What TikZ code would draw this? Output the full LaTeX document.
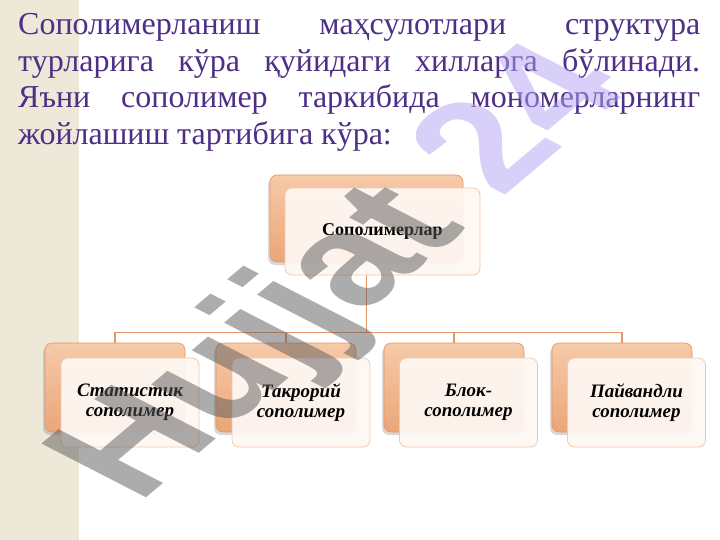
\documentclass[tikz,border=0pt]{standalone}
\usepackage{fontspec}
\setmainfont{Liberation Serif}
\newfontfamily\markfont{Liberation Sans}
\usepackage{tikz}
\usetikzlibrary{positioning,shadows,calc}

\definecolor{slidepurple}{RGB}{78,46,135}
\definecolor{stripbeige}{RGB}{238,232,216}
\definecolor{boxtop}{RGB}{246,202,168}
\definecolor{boxbottom}{RGB}{234,166,120}
\definecolor{boxline}{RGB}{228,150,105}
\definecolor{frontfill}{RGB}{254,248,244}
\definecolor{frontline}{RGB}{244,200,172}
\definecolor{markgray}{RGB}{90,90,90}
\definecolor{marklilac}{RGB}{178,163,242}

\begin{document}
\begin{tikzpicture}[x=1pt,y=1pt,
  intro/.style={anchor=base west, inner sep=0pt, text=slidepurple, font=\fontsize{32}{36}\selectfont},
  backbox/.style={draw=boxline, line width=0.6pt, rounded corners=7pt, top color=boxtop, bottom color=boxbottom,
    drop shadow={shadow xshift=-2pt, shadow yshift=-3pt, opacity=0.3}},
  frontbox/.style={draw=frontline, line width=0.8pt, rounded corners=7pt, fill=frontfill, fill opacity=0.93, text opacity=1, align=center},
  link/.style={draw=boxline, line width=1.2pt}
]

\useasboundingbox (0,0) rectangle (720,-540);
\fill[white] (0,0) rectangle (720,-540);
\fill[stripbeige] (0,0) rectangle (79,-540);

\node[intro] (line1) at (18,-35) {\makebox[682pt][s]{Сополимерланиш маҳсулотлари структура}};
\node[intro] (line2) at (18,-71.5) {\makebox[682pt][s]{турларига кўра қуйидаги хилларга бўлинади.}};
\node[intro] (line3) at (18,-108) {\makebox[682pt][s]{Яъни сополимер таркибида мономерларнинг}};
\node[intro] (line4) at (18,-144.5) {жойлашиш тартибига кўра:};

% back boxes
\node[backbox, minimum width=193pt, minimum height=87pt] (topback) at (366.5,-218.5) {};

\foreach \x/\name in {115/stat, 286/takr, 454/blok, 622/payv}
  \node[backbox, minimum width=140pt, minimum height=89pt] (\name back) at (\x,-387.5) {};

\coordinate (bus) at ($(topback.south)+(0,-70)$);

\foreach \name in {stat, takr, blok, payv}
  \draw[link] (topback.south) -- (bus) -| (\name back.north);

% front boxes
\node[frontbox, minimum width=195pt, minimum height=87pt, font=\bfseries\fontsize{18}{20}\selectfont] (top) at (382.5,-231.5) {Сополимерлар};

\foreach \x/\name/\txt in {130/stat/{Статистик\\сополимер}, 301/takr/{Такрорий\\сополимер}, 468.5/blok/{Блок-\\сополимер}, 636.5/payv/{Пайвандли\\сополимер}}
  \node[frontbox, minimum width=138pt, minimum height=89pt, font=\bfseries\itshape\fontsize{19}{20}\selectfont] (\name) at (\x,-402.5) {\txt};

\begin{scope}[xscale=1.52]
\node[font=\markfont\bfseries\fontsize{127}{127}\selectfont, rotate=52, transform shape, inner sep=0pt, text opacity=0.5] (mark) at (228,-276) {\textcolor{markgray}{Hujjat} \textcolor{marklilac}{24}};
\end{scope}

\end{tikzpicture}
\end{document}
